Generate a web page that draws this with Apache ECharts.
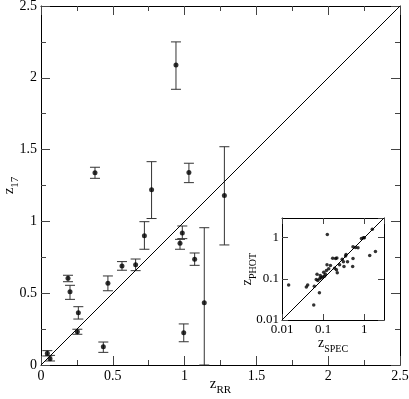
<!DOCTYPE html>
<html>
<head>
  <meta charset="utf-8">
  <title>z17 vs zRR</title>
  <style>
    html, body { margin: 0; padding: 0; background: #fff; }
    #main { width: 409px; height: 399px; }
  </style>
</head>
<body>
<div id="main"></div>
<script src="https://cdn.jsdelivr.net/npm/echarts@6/dist/echarts.min.js"></script>
<script>
// main panel: z_RR against z_17 with error bars
var rrX   = [0.044, 0.063, 0.188, 0.202, 0.260, 0.253, 0.376, 0.434, 0.466, 0.564, 0.659, 0.720, 0.770, 0.940, 0.968, 0.984, 0.994, 1.030, 1.070, 1.137, 1.277];
var z17Y  = [0.081, 0.044, 0.604, 0.510, 0.364, 0.232, 1.339, 0.127, 0.569, 0.690, 0.698, 0.900, 1.220, 2.090, 0.847, 0.920, 0.225, 1.340, 0.736, 0.434, 1.180];
var errLo = [0.063, 0.028, 0.580, 0.457, 0.320, 0.214, 1.300, 0.088, 0.517, 0.660, 0.657, 0.806, 1.020, 1.920, 0.806, 0.880, 0.162, 1.270, 0.694, 0.000, 0.836];
var errHi = [0.100, 0.067, 0.625, 0.555, 0.406, 0.249, 1.377, 0.160, 0.620, 0.720, 0.738, 0.998, 1.416, 2.250, 0.875, 0.968, 0.286, 1.405, 0.780, 0.956, 1.520];

// inset: z_SPEC against z_PHOT (log-log)
var specX = [0.0145, 0.039, 0.042, 0.059, 0.081, 0.061, 0.068, 0.071, 0.074, 0.082, 0.089, 0.097, 0.107, 0.113, 0.126, 0.124, 0.170, 0.200, 0.215, 0.190, 0.210, 0.220, 0.250, 0.290, 0.310, 0.350, 0.360, 0.320, 0.390, 0.530, 0.520, 0.530, 0.610, 0.700, 0.850, 0.950, 1.000, 1.350, 1.860, 1.560, 0.103, 0.120, 0.136, 0.150, 0.085];
var photY = [0.071, 0.063, 0.071, 0.023, 0.046, 0.066, 0.096, 0.130, 0.091, 0.100, 0.106, 0.110, 0.115, 0.130, 1.200, 0.220, 0.316, 0.310, 0.320, 0.180, 0.166, 0.140, 0.220, 0.300, 0.260, 0.360, 0.390, 0.200, 0.260, 0.310, 0.200, 0.600, 0.580, 0.570, 0.960, 1.000, 1.000, 0.370, 0.460, 1.600, 0.145, 0.160, 0.176, 0.210, 0.120];

var mainTicks = [0, 0.5, 1, 1.5, 2, 2.5];
var insetTicks = [0.01, 0.1, 1];

var FONT = 'Liberation Serif';

function zip() {
  var a = arguments, out = [];
  for (var i = 0; i < a[0].length; i++) {
    var row = [];
    for (var j = 0; j < a.length; j++) row.push(a[j][i]);
    out.push(row);
  }
  return out;
}

// "z" with a subscript, drawn with rich text
function subName(main, sub) {
  return '{z|' + main + '}{s|' + sub + '}';
}
function nameRich(size) {
  return {
    z: { fontFamily: FONT, fontSize: size, color: '#000', lineHeight: size + 4, verticalAlign: 'top' },
    s: { fontFamily: FONT, fontSize: size - 4, color: '#000', verticalAlign: 'bottom' }
  };
}

function valAxis(grid, pos, showLabel, extra) {
  var ax = {
    gridIndex: grid,
    type: 'value',
    position: pos,
    min: 0, max: 2.5, interval: 0.5,
    nameMoveOverlap: false,
    axisLine: { show: true, onZero: false, lineStyle: { color: '#000', width: 1 } },
    axisTick: { show: true, inside: true, length: 9, lineStyle: { color: '#444' } },
    minorTick: { show: true, splitNumber: 2, length: 5, lineStyle: { color: '#444' } },
    splitLine: { show: false },
    minorSplitLine: { show: false },
    axisLabel: {
      show: showLabel, fontFamily: FONT, fontSize: 14, color: '#000', margin: 4,
      formatter: function (v) { return mainTicks.indexOf(v) >= 0 ? String(v) : ''; }
    }
  };
  return Object.assign(ax, extra || {});
}

function logAxis(grid, pos, showLabel, extra) {
  var ax = {
    gridIndex: grid,
    type: 'log',
    logBase: 10,
    position: pos,
    min: 0.01, max: 3,
    nameMoveOverlap: false,
    axisLine: { show: true, onZero: false, lineStyle: { color: '#000', width: 1 } },
    axisTick: { show: true, inside: true, length: 6, lineStyle: { color: '#444' } },
    splitLine: { show: false },
    axisLabel: {
      show: showLabel, showMaxLabel: false, fontFamily: FONT, fontSize: 13, color: '#000', margin: 3,
      formatter: function (v) {
        var n = Number(v.toPrecision(2));
        return insetTicks.indexOf(n) >= 0 ? String(n) : '';
      }
    }
  };
  return Object.assign(ax, extra || {});
}

function errorBar(params, api) {
  var x = api.value(0);
  var top = api.coord([x, api.value(2)]);
  var bot = api.coord([x, api.value(1)]);
  var w = 5;
  var st = { stroke: '#333', lineWidth: 1 };
  return {
    type: 'group',
    children: [
      { type: 'line', shape: { x1: top[0], y1: top[1], x2: bot[0], y2: bot[1] }, style: st },
      { type: 'line', shape: { x1: top[0] - w, y1: top[1], x2: top[0] + w, y2: top[1] }, style: st },
      { type: 'line', shape: { x1: bot[0] - w, y1: bot[1], x2: bot[0] + w, y2: bot[1] }, style: st }
    ]
  };
}

var chart = echarts.init(document.getElementById('main'));

chart.setOption({
  animation: false,
  backgroundColor: '#fff',
  textStyle: { fontFamily: FONT },
  grid: [
    { left: 41, top: 6, width: 359, height: 359, outerBoundsMode: 'none' },
    { left: 282, top: 218, width: 102, height: 102, outerBoundsMode: 'none',
      show: true, backgroundColor: '#fff', borderWidth: 0, z: 5 }
  ],
  xAxis: [
    valAxis(0, 'bottom', true, {
      name: subName('z', 'RR'), nameLocation: 'middle', nameGap: 12,
      nameTextStyle: { rich: nameRich(15) }
    }),
    valAxis(0, 'top', false),
    logAxis(1, 'bottom', true, {
      name: subName('z', 'SPEC'), nameLocation: 'middle', nameGap: 16,
      nameTextStyle: { rich: nameRich(14) }, z: 6
    }),
    logAxis(1, 'top', false, { z: 6 })
  ],
  yAxis: [
    valAxis(0, 'left', true, {
      name: subName('z', '17'), nameLocation: 'middle', nameGap: 20,
      nameTextStyle: { rich: nameRich(15) }
    }),
    valAxis(0, 'right', false),
    logAxis(1, 'left', true, {
      name: subName('z', 'PHOT'), nameLocation: 'middle', nameGap: 24,
      nameTextStyle: { rich: nameRich(14) }, z: 6
    }),
    logAxis(1, 'right', false, { z: 6 })
  ],
  series: [
    {
      type: 'line',
      xAxisIndex: 0, yAxisIndex: 0,
      data: [[0, 0], [2.5, 2.5]],
      symbol: 'none',
      lineStyle: { color: '#000', width: 1 },
      silent: true
    },
    {
      type: 'custom',
      xAxisIndex: 0, yAxisIndex: 0,
      renderItem: errorBar,
      encode: { x: 0, y: [1, 2] },
      data: zip(rrX, errLo, errHi),
      z: 3
    },
    {
      type: 'scatter',
      xAxisIndex: 0, yAxisIndex: 0,
      data: zip(rrX, z17Y),
      symbol: 'circle',
      symbolSize: 5,
      itemStyle: { color: '#000' },
      z: 4
    },
    {
      type: 'line',
      xAxisIndex: 2, yAxisIndex: 2,
      data: [[0.01, 0.01], [3, 3]],
      symbol: 'none',
      lineStyle: { color: '#000', width: 1 },
      silent: true,
      z: 6
    },
    {
      type: 'scatter',
      xAxisIndex: 2, yAxisIndex: 2,
      data: zip(specX, photY),
      symbol: 'circle',
      symbolSize: 3.5,
      itemStyle: { color: '#000' },
      z: 7
    }
  ]
});
</script>
</body>
</html>
